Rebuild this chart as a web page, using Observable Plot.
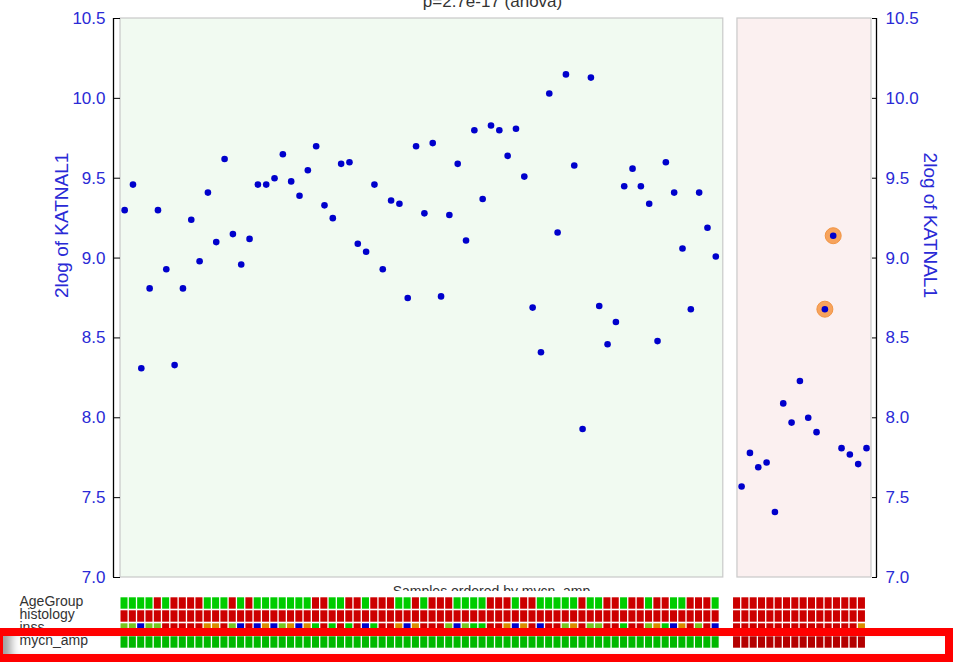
<!DOCTYPE html>
<html><head><meta charset="utf-8">
<script src="https://cdn.jsdelivr.net/npm/d3@7"></script>
<script src="https://cdn.jsdelivr.net/npm/@observablehq/plot@0.6"></script>
<style>
html,body{margin:0;padding:0;background:#fff;}
#wrap{position:relative;width:961px;height:664px;overflow:hidden;background:#fff;font-family:"Liberation Sans",Arial,sans-serif;}
#main,#tracks{position:absolute;left:0;line-height:0;}
#main{top:0}
#tracks{top:591px}
#hl{position:absolute;left:-5px;right:8px;top:628px;bottom:2px;box-sizing:border-box;border:8.5px solid #ff0000;box-shadow:inset 14px 0 10px -6px rgba(0,0,0,0.38);}
svg [aria-label="y-axis tick"]{stroke:#000}
</style></head>
<body>
<div id="wrap"><div id="main"></div><div id="tracks"></div><div id="hl"></div></div>
<script>
// ---- data ----
const title = "p=2.7e-17 (anova)";
const xTitle = "Samples ordered by mycn_amp";
const yTitle = "2log of KATNAL1";
const yTicks = [7.0, 7.5, 8.0, 8.5, 9.0, 9.5, 10.0, 10.5];
const groups = ["no", "yes"]; // mycn_amp groups (panels)

const valuesNo = [9.30, 9.46, 8.31, 8.81, 9.30, 8.93, 8.33, 8.81, 9.24, 8.98,
  9.41, 9.10, 9.62, 9.15, 8.96, 9.12, 9.46, 9.46, 9.50, 9.65,
  9.48, 9.39, 9.55, 9.70, 9.33, 9.25, 9.59, 9.60, 9.09, 9.04,
  9.46, 8.93, 9.36, 9.34, 8.75, 9.70, 9.28, 9.72, 8.76, 9.27,
  9.59, 9.11, 9.80, 9.37, 9.83, 9.80, 9.64, 9.81, 9.51, 8.69,
  8.41, 10.03, 9.16, 10.15, 9.58, 7.93, 10.13, 8.70, 8.46, 8.60,
  9.45, 9.56, 9.45, 9.34, 8.48, 9.60, 9.41, 9.06, 8.68, 9.41,
  9.19, 9.01];
const valuesYes = [7.57, 7.78, 7.69, 7.72, 7.41, 8.09, 7.97, 8.23, 8.00, 7.91, 8.68, 9.14, 7.81, 7.77, 7.71, 7.81];
const highlightedYes = [10, 11];

const trackNames = ["AgeGroup", "histology", "inss", "mycn_amp"];
const ageCats = ["<18m", ">18m"];
const ageNo = [0,0,0,0,1,0,1,1,1,1, 0,0,0,1,0,1,0,0,0,0, 0,0,0,1,1,0,0,1,1,0,
  1,1,1,0,0,1,0,1,1,1, 0,0,0,0,1,1,1,0,1,1, 0,0,0,0,0,1,0,0,1,1,
  0,1,1,0,1,1,0,0,1,1, 1,0];
const ageYes = [1,1,1,1,1,1,1,1,1,1,1,1,1,1,1,1];
const histCats = ["fav", "unfav"];
const histNo = Array.from(valuesNo, () => 1);
const histYes = Array.from(valuesYes, () => 1);
const inssCats = ["1", "2", "3", "4", "4s"];
const inssNo = [1,1,4,1,1,3,3,3,3,3, 2,2,3,1,4,3,4,2,4,1, 2,4,2,0,3,0,3,0,3,4,
  0,3,3,2,4,2,3,3,3,1, 4,1,0,0,3,3,2,4,2,3, 4,3,3,1,2,3,1,1,3,3,
  0,3,3,1,2,0,4,2,3,1, 3,4];
const inssYes = [3,3,3,3,3,3,3,3,3,3,3,3,3,3,3,2];

const ageColors = ["#00cc00", "#cc0000"];
const histColors = ["#00cc00", "#cc0000"];
const inssColors = ["#00cc00", "#77c520", "#d98c00", "#cc0000", "#0000cc"];
const mycnColors = ["#00b800", "#b40000"];

// ---- layout constants (in sample-index units) ----
const nNo = valuesNo.length, nYes = valuesYes.length;
const pointGap = 2.1, trackGap = 1.57;
const xDomain = [-0.5, nNo + pointGap + nYes - 0.4];
const yDomain = [7, 10.5];
const blue = "#2a2ad6";

const points = [
  ...valuesNo.map((v, i) => ({group: "no", pos: i, value: v, hl: false})),
  ...valuesYes.map((v, j) => ({group: "yes", pos: nNo + pointGap + j, value: v, hl: highlightedYes.includes(j)}))
];
const panels = [
  {group: "no", x1: -0.5, x2: nNo - 0.1, fill: "#f1faf1"},
  {group: "yes", x1: nNo + pointGap - 0.5, x2: xDomain[1], fill: "#fbf0f0"}
];

const cells = [];
function addTrack(name, no, yes, colors) {
  no.forEach((c, i) => cells.push({track: name, pos: i, color: colors[c]}));
  yes.forEach((c, j) => cells.push({track: name, pos: nNo + trackGap + j, color: colors[c]}));
}
addTrack("AgeGroup", ageNo, ageYes, ageColors);
addTrack("histology", histNo, histYes, histColors);
addTrack("inss", inssNo, inssYes, inssColors);
addTrack("mycn_amp", valuesNo.map(() => 0), valuesYes.map(() => 1), mycnColors);

const font = '"Liberation Sans", Arial, sans-serif';

const main = Plot.plot({
  width: 961, height: 591,
  marginLeft: 120, marginRight: 90, marginTop: 18, marginBottom: 14,
  style: {fontFamily: font, fontSize: "17px", background: "white"},
  x: {domain: xDomain, axis: null},
  y: {domain: yDomain, label: null},
  marks: [
    Plot.rect(panels, {x1: "x1", x2: "x2", y1: yDomain[0], y2: yDomain[1], fill: "fill", stroke: "#c9c9c9", strokeWidth: 1.2}),
    Plot.dot(points.filter(d => d.hl), {x: "pos", y: "value", r: 8, fill: "#f7a35c", stroke: "#f19443", strokeWidth: 1}),
    Plot.dot(points, {x: "pos", y: "value", r: 3.3, fill: "#0000cc"}),
    Plot.axisY({anchor: "left", ticks: yTicks, tickFormat: d => d.toFixed(1), tickSize: 7, tickPadding: 8, stroke: "black", fill: blue, label: null, fontSize: 17}),
    Plot.axisY({anchor: "right", ticks: yTicks, tickFormat: d => d.toFixed(1), tickSize: 5, tickPadding: 9, stroke: "black", fill: blue, label: null, fontSize: 17}),
    Plot.ruleX([xDomain[0]], {y1: yDomain[0], y2: yDomain[1], dx: -7, stroke: "black", strokeWidth: 1.3}),
    Plot.ruleX([xDomain[1]], {y1: yDomain[0], y2: yDomain[1], dx: 5, stroke: "black", strokeWidth: 1.3}),
    Plot.text([yTitle], {frameAnchor: "left", rotate: -90, dx: -58.5, fontSize: 19, fill: blue}),
    Plot.text([yTitle], {frameAnchor: "right", rotate: 90, dx: 58.5, fontSize: 19, fill: blue}),
    Plot.text([title], {frameAnchor: "top", lineAnchor: "middle", dy: -16.5, dx: -3.5, fontSize: 17, fill: "#333"}),
    Plot.text([xTitle], {frameAnchor: "bottom", lineAnchor: "middle", dy: 14.5, dx: -4.5, fontSize: 14, fill: "#333"})
  ]
});
document.getElementById("main").appendChild(main);

const tracks = Plot.plot({
  width: 961, height: 73,
  marginLeft: 120, marginRight: 90, marginTop: 4.8, marginBottom: 13.8,
  style: {fontFamily: font, fontSize: "14px", background: "white"},
  x: {domain: xDomain, axis: null},
  y: {type: "band", domain: trackNames, padding: 0, axis: null},
  color: {type: "identity"},
  marks: [
    Plot.barX(cells, {x1: d => d.pos - 0.5, x2: d => d.pos + 0.5, y: "track", fill: "color", insetLeft: 0.5, insetRight: 0.8, insetTop: 0.3, insetBottom: 1.3}),
    Plot.text(trackNames, {y: d => d, frameAnchor: "left", dx: -101, dy: -2.5, textAnchor: "start", fontSize: 14, fill: "#333"})
  ]
});
document.getElementById("tracks").appendChild(tracks);
</script>
</body></html>
